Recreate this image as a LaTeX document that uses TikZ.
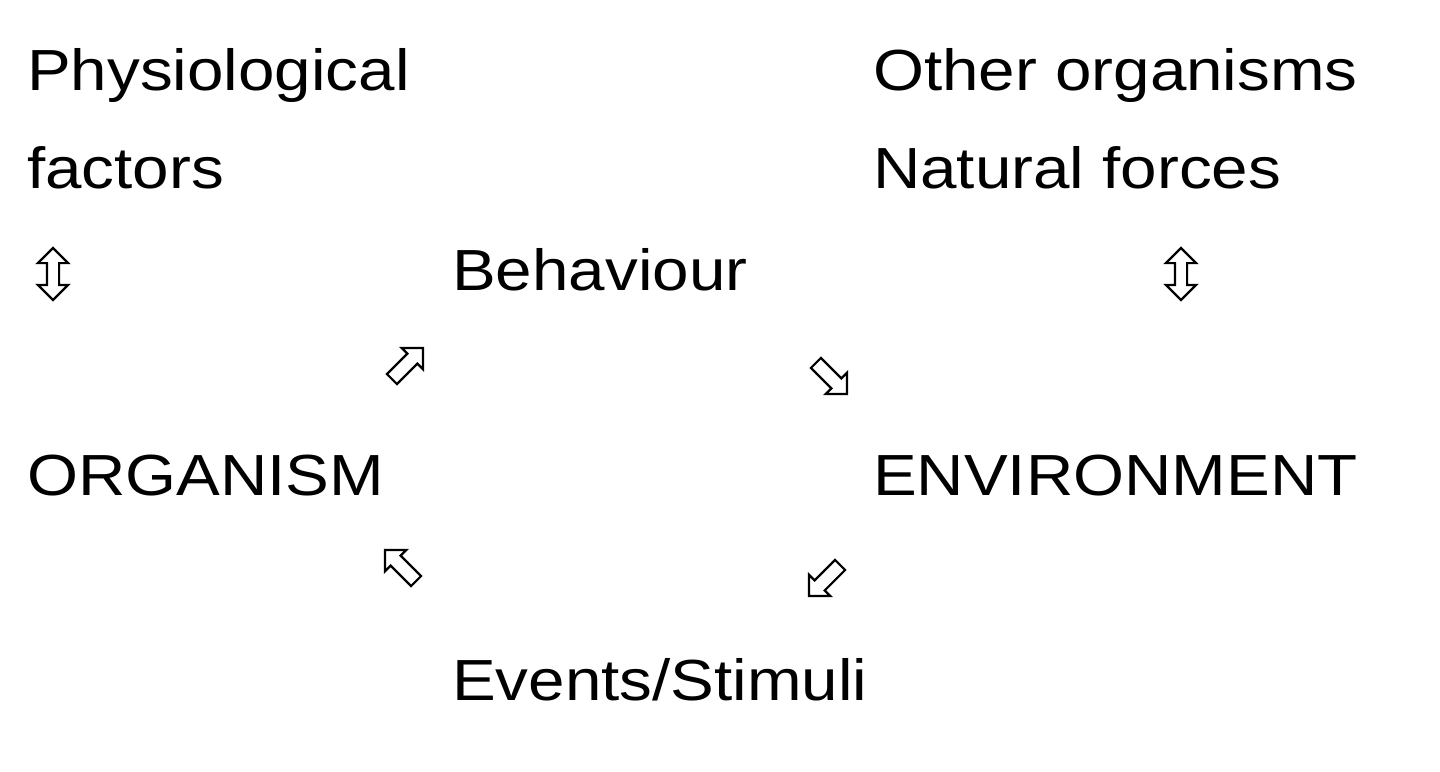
\documentclass[tikz,border=0pt]{standalone}
\usepackage{fontspec}
\setmainfont{Liberation Sans}
\usetikzlibrary{shapes.arrows}

\begin{document}
\begin{tikzpicture}[
        x = 1pt, y = -1pt, % pixel grid, y going down
        label/.style = {anchor = base west, inner sep = 0pt, xscale = 1.13,
            font = \fontsize{58}{70}\selectfont},
        hollow/.style = {draw, line width = 2.2pt, fill = white,
            single arrow, minimum height = 44pt,
            single arrow head extend = 8pt, single arrow tip angle = 90,
            inner sep = 6pt},
        updown/.style = {draw, line width = 2.2pt, fill = white,
            double arrow, rotate = 90, minimum height = 52pt,
            double arrow head extend = 9pt, double arrow tip angle = 90,
            inner sep = 5pt}
    ]
    \useasboundingbox (0,0) rectangle (1440,771);

    % texts
    \node[label] (phys1) at (27,90) {Physiological};
    \node[label] (phys2) at (27,188) {factors};
    \node[label] (other) at (873,90) {Other organisms};
    \node[label] (forces) at (873,188) {Natural forces};
    \node[label] (behav) at (452,290) {Behaviour};
    \node[label] (organism) at (27,495) {ORGANISM};
    \node[label] (environ) at (873,495) {ENVIRONMENT};
    \node[label] (events) at (452,700) {Events/Stimuli};

    % arrows
    \node[updown] (leftud) at (53,274) {};
    \node[updown] (rightud) at (1181,274) {};
    \node[hollow, rotate = 45] (ne) at (405,366) {};
    \node[hollow, rotate = -45] (se) at (829,376) {};
    \node[hollow, rotate = 135] (nw) at (403,568) {};
    \node[hollow, rotate = -135] (sw) at (827,578) {};
\end{tikzpicture}
\end{document}
